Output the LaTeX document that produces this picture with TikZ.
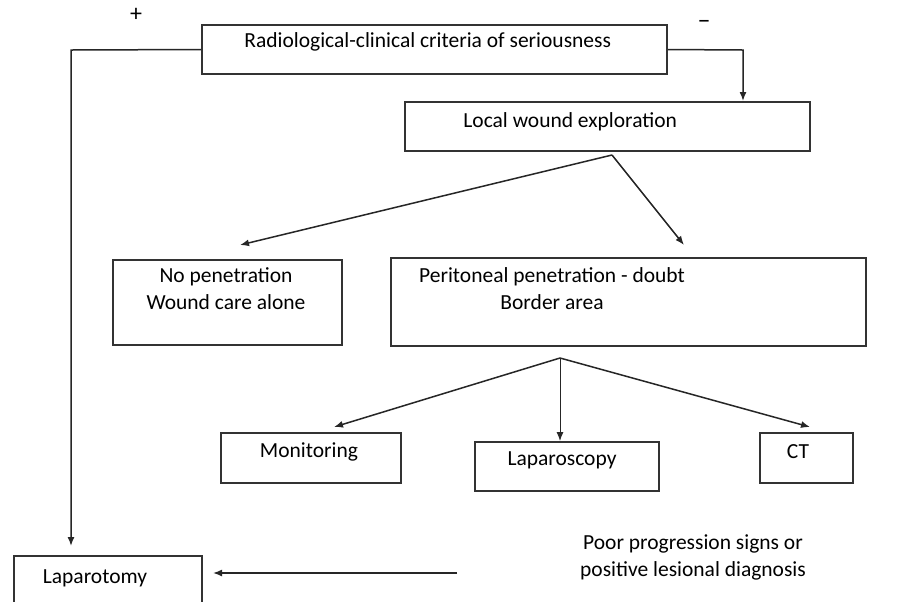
\documentclass[tikz,border=0pt]{standalone}
\usepackage{fontspec}
\setmainfont{Carlito}
\usetikzlibrary{arrows.meta}

\tikzset{
  box/.style={draw=black!80, line width=1pt, inner sep=0pt},
  lbl/.style={inner sep=0pt, align=center, font=\fontsize{10.75}{13.5}\selectfont},
  arr/.style={line width=0.75pt, draw=black!85, -{Latex[length=4.5pt,width=3.5pt]}},
}

\begin{document}
\begin{tikzpicture}[x=0.5pt, y=-0.5pt]
    \clip (0,0) rectangle (898,601);
    \fill[white] (0,0) rectangle (898,601);

    \coordinate (plus) at (71,50);
    \coordinate (minus) at (743,50);
    \coordinate (split1) at (612,155);
    \coordinate (split2) at (560,358);
    \coordinate (tipnopen) at (240,245);
    \coordinate (tipperit) at (684,245);
    \coordinate (tipmonit) at (334,427);
    \coordinate (tipct) at (810,427);
    \coordinate (poorarr) at (457,573);

    \node[box, minimum width=232.5pt, minimum height=24.5pt] (crit) at (434.5,49.5) {};
    \node[box, minimum width=202.5pt, minimum height=24.5pt] (loc) at (607.5,126.5) {};
    \node[box, minimum width=114.5pt, minimum height=42.5pt] (nopen) at (227.5,302.5) {};
    \node[box, minimum width=237.5pt, minimum height=44pt] (perit) at (628.5,302) {};
    \node[box, minimum width=90pt, minimum height=25pt] (monit) at (311,458) {};
    \node[box, minimum width=92pt, minimum height=24.5pt] (lapsc) at (567,466.5) {};
    \node[box, minimum width=46.5pt, minimum height=25pt] (ct) at (806.5,458) {};
    \node[box, minimum width=94pt, minimum height=32pt] (lapt) at (108,588) {};

    \node[lbl, anchor=west] (critlbl) at (244,42) {Radiological-clinical criteria of seriousness};
    \node[lbl, font=\fontsize{12}{14}\selectfont] (plslbl) at (136,15) {+};
    \node[lbl, font=\fontsize{13}{14}\selectfont] (mnslbl) at (704,24) {--};
    \node[lbl, anchor=west] (loclbl) at (463,122) {Local wound exploration};
    \node[lbl] (nopenlbl) at (226,289) {No penetration\\Wound care alone};
    \node[lbl] (peritlbl) at (552,289) {Peritoneal penetration - doubt\\Border area};
    \node[lbl] (monitlbl) at (309,452) {Monitoring};
    \node[lbl] (lapsclbl) at (562,460) {Laparoscopy};
    \node[lbl] (ctlbl) at (798,452) {CT};
    \node[lbl] (laptlbl) at (95,578) {Laparotomy};
    \node[lbl] (poorlbl) at (693,557) {Poor progression signs or\\positive lesional diagnosis};

    \draw[arr, shorten >=4.5pt] (crit.west) -- (plus) -- (plus |- lapt.north);
    \draw[arr] (crit.east) -- (minus) -- (minus |- loc.north);

    \draw[arr] (split1) -- (tipnopen);
    \draw[arr] (split1) -- (tipperit);

    \draw[arr] (split2) -- (tipmonit);
    \draw[arr, line width=0.5pt] (split2) -- (split2 |- lapsc.north);
    \draw[arr] (split2) -- (tipct);

    \draw[arr, shorten >=5pt] (poorarr) -- (poorarr -| lapt.east);
  \end{tikzpicture}
\end{document}
